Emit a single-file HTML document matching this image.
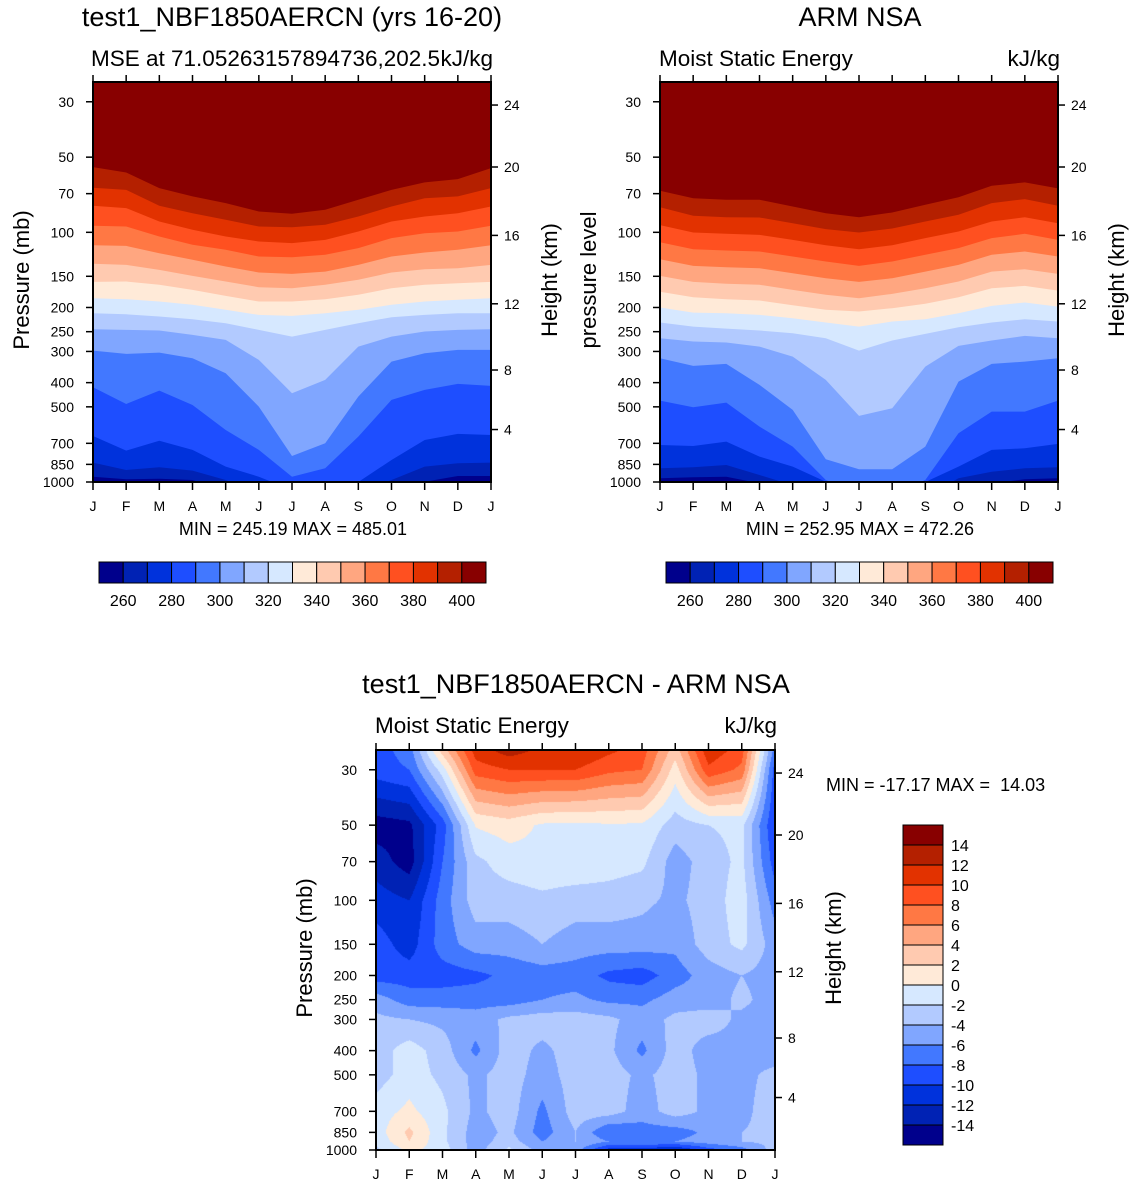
<!DOCTYPE html>
<html><head><meta charset="utf-8"><style>
html,body{margin:0;padding:0;background:#fff;}
#wrap{position:relative;width:1135px;height:1188px;overflow:hidden;}
#diffCanvas{position:absolute;left:376px;top:750px;}
svg{position:absolute;left:0;top:0;}
text{font-family:"Liberation Sans",sans-serif;fill:#000;white-space:pre;}
</style></head><body>
<div id="wrap">
<canvas id="diffCanvas" width="399" height="400"></canvas>
<svg id="fig" width="1135" height="1188" xmlns="http://www.w3.org/2000/svg"></svg>
</div>
<script>
const MONTHS=['J','F','M','A','M','J','J','A','S','O','N','D','J'];
const PTICKS=[30,50,70,100,150,200,250,300,400,500,700,850,1000];
const HTICKS=[4,8,12,16,20,24];
const COLORS=['#00008C','#0022B4','#0032DC','#1E4EFF','#4278FF','#80A6FF','#B2CAFF','#D6E8FF','#FFEAD8','#FFCAB0','#FFA680','#FF7844','#FF5020','#E23200','#B42000','#880000'];
const MSE_LEVELS=[260,270,280,290,300,310,320,330,340,350,360,370,380,390,400];
const DIFF_LEVELS=[-14,-12,-10,-8,-6,-4,-2,0,2,4,6,8,10,12,14];
// pressure (hPa) where model MSE crosses each level, by month J..J
const MODEL_CROSS_P=[
[951.9,975.7,969.7,981.7,1077,1181,1250,1250,1181,1077,997,946,946],
[836.5,895,873.3,900.6,981.7,1112,1181,1181,1112,981.7,867.9,841.6,836.5],
[654.1,748.6,683,744,867.9,951.9,1077,1012,1000,816.1,678.7,642,648],
[417.4,486.9,430.4,491.4,618.8,744,951.9,881.4,658.1,469.2,427.8,404.8,412.3],
[297.6,306.9,303.1,319.4,366.8,499,786.5,699.8,455,329.4,305,295.7,295.7],
[244.4,245.9,247.4,257.5,269.6,324.3,441.1,390.1,286.8,261.5,249.7,245.9,244.4],
[210.9,212.9,217.4,222.8,231.2,245.9,261.5,245.9,231.2,218.8,214.1,210.9,210.9],
[183.6,185.3,189.3,195.2,204.4,214.1,216.1,210.9,204.4,195.2,189.3,186.4,183.6],
[157.9,157.4,162.3,170,179.7,189.3,189.3,185.3,178,167.4,162.3,159.8,157.9],
[133.7,135,141.4,149.4,157.4,165.9,167.4,162.3,155,144.9,140.5,139.2,135],
[112.6,113.3,121.2,128.9,137.1,144.9,146.7,143.6,135,125,120.4,117.5,112.6],
[94.2,94.8,103.9,112.2,117.5,125,125.8,123,115.7,105.5,100.8,99.2,94.2],
[78.3,80,90.5,97.7,103.9,108.8,110.5,107.2,99.2,90.5,86.4,83.8,78.8],
[66.3,67.6,78.3,83.8,89.1,94.8,95.4,93.3,86.4,78.8,73,71.8,66.5],
[54.8,57.6,66.5,71.8,76.4,82.5,84.3,81.2,74.1,67.6,63.1,61.2,55.3]];
const OBS_CROSS_P=[
[966.7,957.8,951.9,1012,1112,1250,1320,1320,1250,1112,1012,975.7,966.7],
[881.4,873.3,854.6,937.4,1030,1181,1250,1250,1145,966.7,909,881.4,873.3],
[710.7,717.3,689.2,791.3,867.9,997,1181,1181,1000,867.9,744,732.8,704],
[472.1,502,480.9,600,721.8,981.7,1112,1112,981.7,638.1,522.5,522.5,472.1],
[319.4,342.8,336.6,408.5,514.5,811,889.5,889.5,721.8,396.2,336.6,329.4,319.4],
[265.5,273.8,276.3,286.8,314.5,390.1,543.8,506.7,344.9,285,271.3,259.9,265.5],
[229.8,238.5,243,247.4,253.6,265.5,297.6,271.3,255.2,240,229.8,222.8,227.7],
[200.1,209.6,210.9,214.1,220.8,229.8,238.5,227.7,222.8,210.9,197.1,191,198.3],
[173.1,181.9,185.3,187.5,195.8,204.4,207.6,201.3,193.4,181.9,167.4,163.9,171.1],
[149.4,157.9,160.8,162.3,170,178,183.6,176.4,167.4,157.4,143.6,140.5,146.7],
[128.1,136.3,138,139.2,145.8,152.6,157.9,152.6,143.6,135,123,119.3,125],
[109.5,116.8,118.2,119.3,125,130.9,136.3,130.9,123,115.7,105.5,101.4,107.2],
[93.6,100.2,101.4,102.4,107.2,112.6,116.8,112.6,105.5,99.2,90.5,87,91.9],
[79.3,85.9,87,87.2,91.9,97.1,100.2,96.5,90.5,85.1,76.4,73.6,78.3],
[68.2,73,74.1,74.1,78.8,83.8,87,83.3,77.6,72.3,65.1,63.1,66.7]];
const DIFF_P=[1000,925,850,700,500,400,300,250,200,150,100,70,50,30,25];
const DIFF_VALUES=[
[-2.5,0.5,-1,-5,-1.5,-5,-5,-11,-11,-12.5,-9,-7,-3],
[-1.5,2,-1.5,-5,-3,-6,-4,-6,-6,-6,-5,-4,-3.5],
[-1,2.5,-1.5,-5,-3.5,-7,-4,-8,-7,-7,-5.5,-4,-3.5],
[-1,0.5,-1.5,-4.5,-3,-6.5,-3,-3,-5,-3,-4.5,-4.5,-3],
[-3,-1,-2.5,-4.5,-3,-5,-3,-3,-4.5,-3,-4.5,-4.5,-3.5],
[-3,-1,-3,-6.5,-3,-4.5,-3,-3.5,-6.5,-3,-5,-4.5,-5],
[-3.5,-4,-4.5,-5,-3.5,-3,-3,-3.5,-5,-3.5,-3,-4.5,-5],
[-5,-7,-7,-7,-7,-6,-5.5,-6.5,-6.5,-5,-5,-3.5,-5],
[-9,-9,-9,-8.5,-7.5,-7,-7,-8.5,-9,-7,-5,-4,-5],
[-9,-11,-7,-5,-5,-4,-5,-5,-5,-5.5,-3,-1.5,-5],
[-11,-12,-7,-3,-3,-2.5,-3,-3,-3.5,-4.5,-3,-1,-7],
[-13,-15,-8,-2.5,-1,-0.5,-0.5,-1,-1.5,-5,-3,-1.5,-9],
[-15,-14.5,-9,0.2,1,-0.3,-0.5,-0.2,-0.3,-3,-2,-1.5,-10],
[-9,-8,-1,9,10,10,10,8.5,8,1,9.5,7.5,-9],
[-9,-7,3,11,13,11.5,12,10.5,9,3,11.5,9,-7]];

const NS='http://www.w3.org/2000/svg';
const svg=document.getElementById('fig');
function mk(tag,attrs,parent,txt){const e=document.createElementNS(NS,tag);for(const k in attrs)e.setAttribute(k,attrs[k]);if(txt!==undefined)e.textContent=txt;(parent||svg).appendChild(e);return e;}
const PTOP=25;
function axes(x0,y0,w,h){return{x:m=>x0+m*w/12,y:p=>y0+h-h*Math.log10(1000/p)/Math.log10(1000/PTOP)};}
function hToP(km){const m=km*1000;if(m<=11000)return 1013.25*Math.pow(1-2.25577e-5*m,5.25588);if(m<=20000)return 226.32*Math.exp(-(m-11000)/6341.6);return 54.75*Math.exp(-(km-20)/7.0);}

function frame(x0,y0,w,h,id,leftTitle,rightTitle){
  const A=axes(x0,y0,w,h);
  const f=mk('rect',{x:x0,y:y0,width:w,height:h,fill:'none',stroke:'#000','stroke-width':2});
  
  PTICKS.forEach(p=>{const y=A.y(p);
    const t=mk('line',{x1:x0-7,x2:x0,y1:y,y2:y,stroke:'#000','stroke-width':1.5});
    
    const l=mk('text',{x:x0-19,y:y+5,'text-anchor':'end','font-size':14},null,String(p));
    });
  HTICKS.forEach(hk=>{const y=A.y(hToP(hk));
    const t=mk('line',{x1:x0+w,x2:x0+w+7,y1:y,y2:y,stroke:'#000','stroke-width':1.5});
    
    const l=mk('text',{x:x0+w+13,y:y+5,'font-size':14},null,String(hk));
    });
  MONTHS.forEach((mn,i)=>{const x=A.x(i);
    const t=mk('line',{x1:x,x2:x,y1:y0+h,y2:y0+h+8,stroke:'#000','stroke-width':1.5});
    
    const t2=mk('line',{x1:x,x2:x,y1:y0-7,y2:y0,stroke:'#000','stroke-width':1.5});
    
    const l=mk('text',{x:x,y:y0+h+29,'text-anchor':'middle','font-size':14},null,mn);
    });
  const lt=mk('text',{transform:`translate(${x0-64},${y0+h/2-2}) rotate(-90)`,'text-anchor':'middle','font-size':22},null,leftTitle);
  
  const rt=mk('text',{transform:`translate(${x0+w+66},${y0+h/2-2}) rotate(-90)`,'text-anchor':'middle','font-size':22},null,rightTitle);
  
  return A;
}

function bandPanel(x0,y0,w,h,cross,id){
  const A=axes(x0,y0,w,h);
  const cp=mk('clipPath',{id:'clip-'+id});mk('rect',{x:x0,y:y0,width:w,height:h},cp);
  const g=mk('g',{'clip-path':`url(#clip-${id})`});
  
  const base=mk('rect',{x:x0,y:y0,width:w,height:h,fill:COLORS[0]},g);
  
  cross.forEach((row,k)=>{
    let pts=row.map((p,m)=>A.x(m).toFixed(1)+','+A.y(p).toFixed(1));
    pts.push(A.x(12)+','+(y0-5));pts.push(A.x(0)+','+(y0-5));
    const poly=mk('polygon',{points:pts.join(' '),fill:COLORS[k+1]},g);
    
    
  });
}

function hColorbar(x0,y0,w,h,levels,id){
  const n=COLORS.length,bw=w/n;
  COLORS.forEach((c,i)=>{const r=mk('rect',{x:x0+i*bw,y:y0,width:bw,height:h,fill:c,stroke:'#000','stroke-width':1});
    });
  levels.forEach((lv,i)=>{if(i%2===0){const t=mk('text',{x:x0+(i+1)*bw,y:y0+h+23,'text-anchor':'middle','font-size':16},null,String(lv));
    }});
}

function txt(x,y,s,size,anchor,name){const t=mk('text',{x:x,y:y,'font-size':size,'text-anchor':anchor||'start'},null,s);
  return t;}

// Top-left
bandPanel(93,82,398,400,MODEL_CROSS_P,'model');
frame(93,82,398,400,'model','Pressure (mb)','Height (km)');
txt(292,26,'test1_NBF1850AERCN (yrs 16-20)',27,'middle','model-title');
txt(91,66,'MSE at 71.05263157894736,202.5',22.5,'start','model-subtitle');
txt(493,66,'kJ/kg',22.5,'end','model-units');
txt(293,535,'MIN = 245.19 MAX = 485.01',18,'middle','model-min-max');
hColorbar(99,562,387,21,MSE_LEVELS,'model-colorbar');

// Top-right
bandPanel(660,82,398,400,OBS_CROSS_P,'obs');
frame(660,82,398,400,'obs','pressure level','Height (km)');
txt(860,26,'ARM NSA',27,'middle','obs-title');
txt(659,66,'Moist Static Energy',22.5,'start','obs-subtitle');
txt(1060,66,'kJ/kg',22.5,'end','obs-units');
txt(860,535,'MIN = 252.95 MAX = 472.26',18,'middle','obs-min-max');
hColorbar(666,562,387,21,MSE_LEVELS,'obs-colorbar');

// Bottom difference (canvas fill from DIFF grid)
(function(){
  const cv=document.getElementById('diffCanvas'),ctx=cv.getContext('2d');
  const W=cv.width,H=cv.height,img=ctx.createImageData(W,H);
  const lp=DIFF_P.map(p=>Math.log10(p));
  const rgb=COLORS.map(c=>[parseInt(c.substr(1,2),16),parseInt(c.substr(3,2),16),parseInt(c.substr(5,2),16)]);
  for(let py=0;py<H;py++){
    const logp=3-(H-py-0.5)/H*Math.log10(1000/PTOP);
    let k=0;while(k<lp.length-2&&logp<lp[k+1])k++;
    const t=Math.min(1,Math.max(0,(lp[k]-logp)/(lp[k]-lp[k+1])));
    for(let px=0;px<W;px++){
      const m=(px+0.5)/W*12;let j=Math.min(11,Math.floor(m));const u=m-j;
      const a=DIFF_VALUES[k][j]*(1-u)+DIFF_VALUES[k][j+1]*u;
      const b=DIFF_VALUES[k+1][j]*(1-u)+DIFF_VALUES[k+1][j+1]*u;
      const v=a*(1-t)+b*t;
      let ci=0;while(ci<DIFF_LEVELS.length&&v>=DIFF_LEVELS[ci])ci++;
      const c=rgb[ci],o=(py*W+px)*4;img.data[o]=c[0];img.data[o+1]=c[1];img.data[o+2]=c[2];img.data[o+3]=255;
    }
  }
  ctx.putImageData(img,0,0);
})();
frame(376,750,399,400,'diff','Pressure (mb)','Height (km)');
txt(576,693,'test1_NBF1850AERCN - ARM NSA',27,'middle','diff-title');
txt(375,733,'Moist Static Energy',22.5,'start','diff-subtitle');
txt(777,733,'kJ/kg',22.5,'end','diff-units');
txt(826,791,'MIN = -17.17 MAX =\u00a0\u00a014.03',18,'start','diff-min-max');
(function(){
  const x0=903,y0=825,w=40,h=320,n=COLORS.length,bh=h/n;
  COLORS.forEach((c,i)=>{const r=mk('rect',{x:x0,y:y0+h-(i+1)*bh,width:w,height:bh,fill:c,stroke:'#000','stroke-width':1});
    });
  DIFF_LEVELS.forEach((lv,i)=>{const t=mk('text',{x:x0+w+8,y:y0+h-(i+1)*bh+6,'font-size':16},null,String(lv));
    });
})();
</script>
</body></html>
